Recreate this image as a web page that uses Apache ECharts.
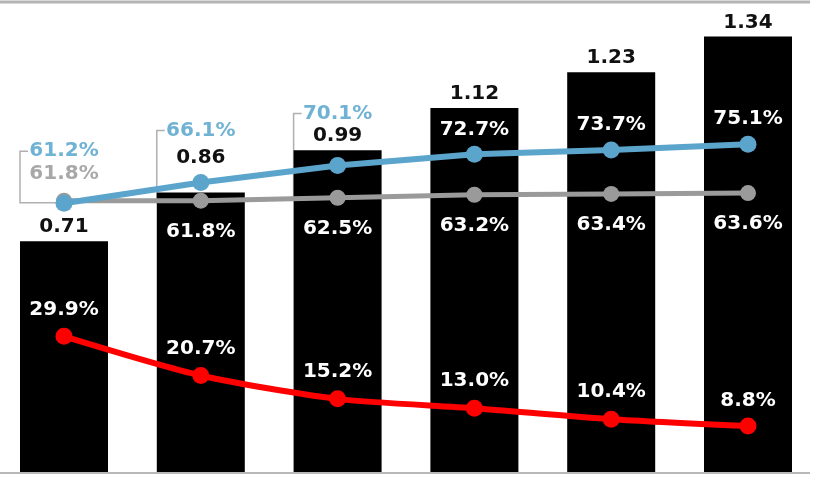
<!DOCTYPE html>
<html>
<head>
<meta charset="utf-8">
<script src="https://cdn.jsdelivr.net/npm/echarts@6/dist/echarts.min.js"></script>
<style>
html,body{margin:0;padding:0;background:#fff;}
#chart{width:828px;height:479px;}
</style>
</head>
<body>
<div id="chart"></div>
<script>
const categories = ['1', '2', '3', '4', '5', '6'];
const barValues = [0.71, 0.86, 0.99, 1.12, 1.23, 1.34];
const blueValues = [61.2, 66.1, 70.1, 72.7, 73.7, 75.1];
const grayValues = [61.8, 61.8, 62.5, 63.2, 63.4, 63.6];
const redValues = [29.9, 20.7, 15.2, 13.0, 10.4, 8.8];
const bracketCats = [0, 1, 2];

const FONT = 'DejaVu Sans';
const BLUE = '#5ba4cb';
const BLUE_TXT = '#6fb2d4';
const GRAY = '#9a9a9a';
const GRAY_TXT = '#a8a8a8';
const RED = '#ff0000';
const fmtPct = v => v.toFixed(1) + '%';

const chart = echarts.init(document.getElementById('chart'), null, {renderer: 'canvas'});

const baseLabel = {show: true, fontFamily: FONT, fontWeight: 'bold', fontSize: 20, position: 'inside'};

const barData = barValues.map((v, i) => ({
  value: v,
  label: {distance: i === 1 ? 25 : 4}
}));

const blueData = blueValues.map((v, i) => ({
  value: v,
  label: i < 3
    ? {color: BLUE_TXT, offset: [0, -52]}
    : {color: '#ffffff', offset: [0, -25]}
}));

const grayData = grayValues.map((v, i) => ({
  value: v,
  label: i === 0
    ? {color: GRAY_TXT, offset: [0, -27]}
    : {color: '#ffffff', offset: [0, 31]}
}));

const redData = redValues.map((v, i) => ({
  value: v,
  label: {color: '#ffffff', offset: [0, i === 5 ? -25 : -27]}
}));

const bracketData = bracketCats.map(i => [i, blueValues[i], grayValues[i]]);

const option = {
  animation: false,
  backgroundColor: '#ffffff',
  grid: {left: -4.4, width: 820.8, top: 17, bottom: 7, outerBoundsMode: 'none', containLabel: false},
  xAxis: {
    type: 'category', data: categories,
    axisLine: {show: false}, axisTick: {show: false}, axisLabel: {show: false}
  },
  yAxis: [
    {type: 'value', min: 0, max: 1.4, show: false},
    {type: 'value', min: -2.0, max: 105.0, show: false}
  ],
  graphic: [
    {type: 'line', shape: {x1: 0, y1: 2, x2: 810, y2: 2}, style: {stroke: '#b4b4b4', lineWidth: 3}, z: 100},
    {type: 'line', shape: {x1: 0, y1: 473, x2: 810, y2: 473}, style: {stroke: '#b8b8b8', lineWidth: 2}, z: 100}
  ],
  series: [
    {
      type: 'custom', yAxisIndex: 1, z: 1, silent: true,
      data: bracketData,
      renderItem: function (params, api) {
        const pB = api.coord([api.value(0), api.value(1)]);
        const pG = api.coord([api.value(0), api.value(2)]);
        const x = pB[0] - 44;
        const topY = pB[1] - 52;
        const botY = pG[1] + 2;
        return {
          type: 'polyline',
          shape: {points: [[x + 8, topY], [x, topY], [x, botY], [pB[0], botY]]},
          style: {stroke: '#b0b0b0', lineWidth: 1.5, fill: null}
        };
      }
    },
    {
      type: 'bar', data: barData, barWidth: 88, z: 2,
      itemStyle: {color: '#000000'},
      label: {show: true, position: 'top', fontFamily: FONT, fontWeight: 'bold', fontSize: 20, color: '#111111',
        formatter: p => p.value.toFixed(2)}
    },
    {
      type: 'line', yAxisIndex: 1, data: grayData, z: 3,
      symbol: 'circle', symbolSize: 16,
      lineStyle: {color: GRAY, width: 5}, itemStyle: {color: GRAY},
      label: Object.assign({}, baseLabel, {formatter: p => fmtPct(p.value)})
    },
    {
      type: 'line', yAxisIndex: 1, data: blueData, z: 4,
      symbol: 'circle', symbolSize: 17,
      lineStyle: {color: BLUE, width: 6}, itemStyle: {color: BLUE},
      label: Object.assign({}, baseLabel, {formatter: p => fmtPct(p.value)})
    },
    {
      type: 'line', yAxisIndex: 1, data: redData, z: 4, smooth: 0.25,
      symbol: 'circle', symbolSize: 17,
      lineStyle: {color: RED, width: 6}, itemStyle: {color: RED},
      label: Object.assign({}, baseLabel, {formatter: p => fmtPct(p.value)})
    }
  ]
};
chart.setOption(option);
</script>
</body>
</html>
